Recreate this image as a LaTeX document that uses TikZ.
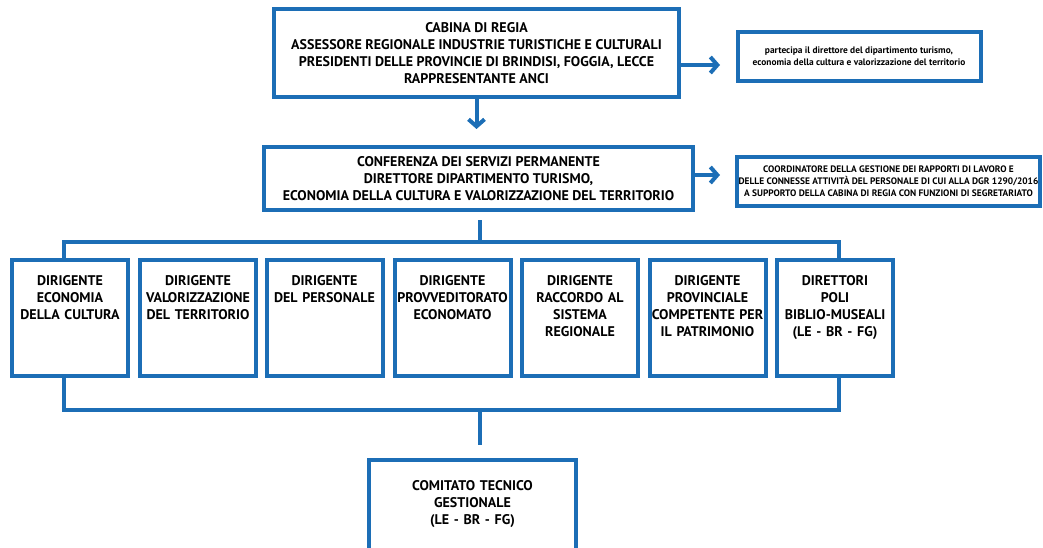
\documentclass[tikz,border=0pt]{standalone}
\usepackage{fontspec}
\setmainfont{PT Sans}
\usetikzlibrary{arrows.meta}
\definecolor{dblue}{RGB}{28,110,182}
\pgfdeclarelayer{edgelayer}
\pgfdeclarelayer{nodelayer}
\pgfsetlayers{edgelayer,nodelayer,main}
\tikzstyle{board}=[rectangle, draw=dblue, fill=white, line width=4pt, inner sep=0pt, align=center, font=\bfseries\fontsize{14}{17}\selectfont]
\tikzstyle{note}=[board, font=\bfseries\fontsize{9.4}{12}\selectfont]
\tikzstyle{office}=[board, text width=116pt, minimum width=116pt, text height=25pt, text depth=91pt]
\tikzstyle{link}=[-, draw=dblue, line width=4pt]
\tikzstyle{arrow}=[link, -{Straight Barb[length=7pt,width=16pt]}]

\begin{document}
\begin{tikzpicture}[x=1pt, y=-1pt]
            \useasboundingbox (0,0) rectangle (1043,548);
            \begin{pgfonlayer}{nodelayer}
                \node [style=board, minimum width=405pt, minimum height=88pt] (cabina) at (476.5,53) {CABINA DI REGIA\\ASSESSORE REGIONALE INDUSTRIE TURISTICHE E CULTURALI\\PRESIDENTI DELLE PROVINCIE DI BRINDISI, FOGGIA, LECCE\\RAPPRESENTANTE ANCI};
                \node [style=note, minimum width=243pt, minimum height=49pt] (partecipa) at (859,56.5) {partecipa il direttore del dipartimento turismo,\\economia della cultura e valorizzazione del territorio};
                \node [style=board, minimum width=429pt, minimum height=63pt] (conferenza) at (478.5,178.5) {CONFERENZA DEI SERVIZI PERMANENTE\\DIRETTORE DIPARTIMENTO TURISMO,\\ECONOMIA DELLA CULTURA E VALORIZZAZIONE DEL TERRITORIO};
                \node [style=note, minimum width=303pt, minimum height=49pt] (coordinatore) at (888.5,181.5) {COORDINATORE DELLA GESTIONE DEI RAPPORTI DI LAVORO E\\DELLE CONNESSE ATTIVITÀ DEL PERSONALE DI CUI ALLA DGR 1290/2016\\A SUPPORTO DELLA CABINA DI REGIA CON FUNZIONI DI SEGRETARIATO};

                \node [style=office] (cultura) at (70,318) {DIRIGENTE\\ECONOMIA\\DELLA CULTURA};
                \node [style=office] (territorio) at (198,318) {DIRIGENTE\\VALORIZZAZIONE\\DEL TERRITORIO};
                \node [style=office] (personale) at (324.5,318) {DIRIGENTE\\DEL PERSONALE};
                \node [style=office] (economato) at (452.5,318) {DIRIGENTE\\PROVVEDITORATO\\ECONOMATO};
                \node [style=office] (raccordo) at (580,318) {DIRIGENTE\\RACCORDO AL\\SISTEMA\\REGIONALE};
                \node [style=office] (patrimonio) at (707.5,318) {DIRIGENTE\\PROVINCIALE\\COMPETENTE PER\\IL PATRIMONIO};
                \node [style=office] (poli) at (835,318) {DIRETTORI\\POLI\\BIBLIO-MUSEALI\\(LE - BR - FG)};

                \node [style=board, text width=190pt, minimum width=207pt, text height=30pt, text depth=110pt] (comitato) at (472.5,530) {COMITATO TECNICO\\GESTIONALE\\(LE - BR - FG)};
            \end{pgfonlayer}
            \coordinate (tip1) at (720,65);
            \coordinate (tip2) at (720,175);
            \coordinate (down) at (476.5,129);
            \coordinate (hubtop) at (480,242);
            \coordinate (hubbot) at (480,410);
            \coordinate (busTL) at (64,242);
            \coordinate (busTR) at (839,242);
            \coordinate (busBL) at (64,410);
            \coordinate (busBR) at (839,410);
            \begin{pgfonlayer}{edgelayer}
                \draw [style=arrow] (cabina.east |- tip1) to (tip1);
                \draw [style=arrow] (cabina.south) to (down);
                \draw [style=arrow] (conferenza.east |- tip2) to (tip2);
                \draw [style=link, shorten <=8pt] (conferenza.south -| hubtop) to (hubtop);
                \draw [style=link] (cultura.north -| busTL) -- (busTL) -- (busTR) -- (poli.north -| busTR);
                \draw [style=link] (cultura.south -| busBL) -- (busBL) -- (busBR) -- (poli.south -| busBR);
                \draw [style=link, shorten >=13pt] (hubbot) to (hubbot |- comitato.north);
            \end{pgfonlayer}
\end{tikzpicture}
\end{document}
